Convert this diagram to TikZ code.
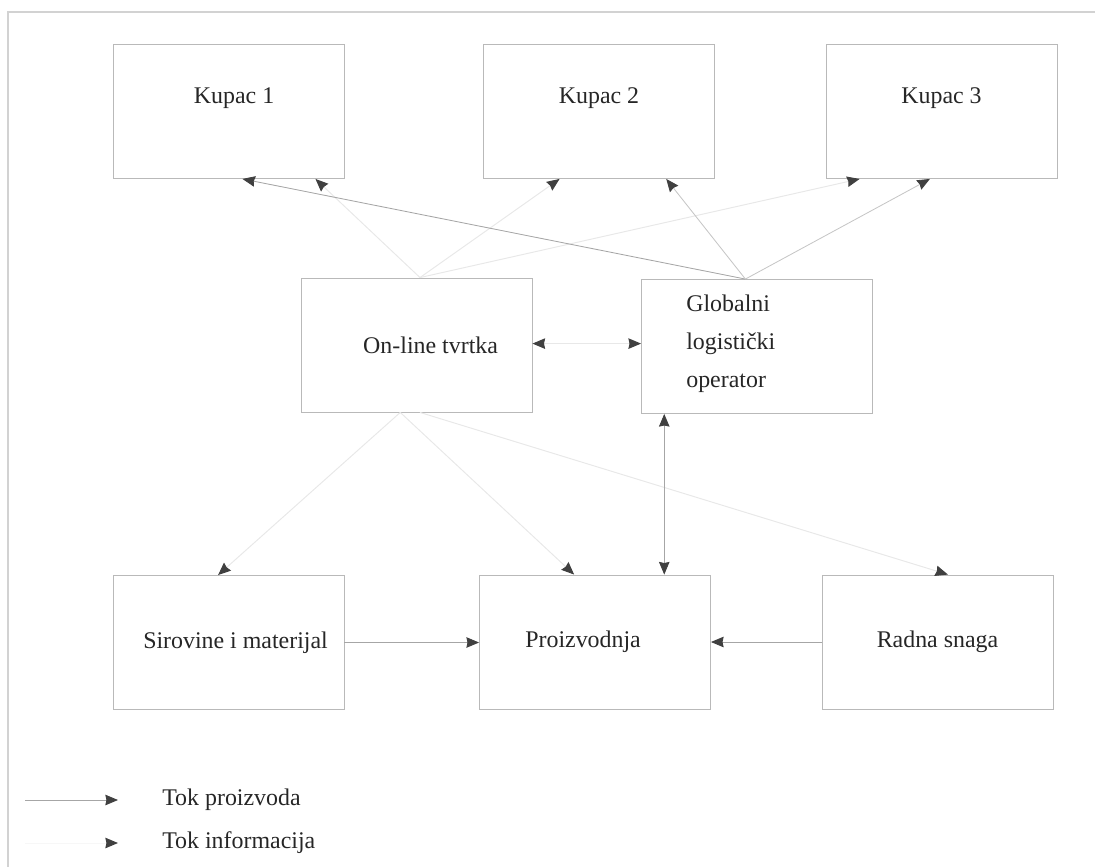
\documentclass[tikz,border=0pt]{standalone}
\usepackage{fontspec}
\setmainfont{Liberation Serif}
\usetikzlibrary{arrows.meta,calc}
\begin{document}
\begin{tikzpicture}[x=0.025cm,y=-0.025cm,
  every node/.style={font=\fontsize{17}{27}\selectfont, text=black!85},
  box/.style={draw=gray!55, line width=0.6pt, inner sep=0pt,
    minimum width=5.775cm, minimum height=3.35cm},
  txt/.style={inner sep=0pt},
  prod/.style={draw=gray!70, line width=0.6pt,
    -{Stealth[length=9pt,width=7.5pt,inset=0.8pt,color=black!75]}},
  prodmid/.style={prod, draw=gray!45},
  info/.style={draw=gray!18, line width=0.7pt,
    -{Stealth[length=9pt,width=7.5pt,inset=0.8pt,color=black!75]}},
  frame/.style={draw=gray!35, line width=0.8pt}]
\useasboundingbox (0,0) rectangle (1095,867);
% frame
\coordinate (ftl) at (8,12);
\coordinate (ftr) at (1095,12);
\coordinate (fbl) at (8,867);
\draw[frame] (ftr) -- (ftl) -- (fbl);
% boxes
\node[box, label={[txt, xshift=4pt, yshift=9.6pt]center:Kupac 1}] (K1) at (228.5,111.5) {};
\node[box, label={[txt, yshift=9.6pt]center:Kupac 2}] (K2) at (599,111.5) {};
\node[box, label={[txt, yshift=9.6pt]center:Kupac 3}] (K3) at (941.5,111.5) {};
\node[box, label={[txt, xshift=10pt]center:On-line tvrtka}] (OL) at (416.5,345) {};
\node[box, label={[txt, anchor=west, align=left, xshift=32pt, yshift=2pt]west:Globalni\\logistički\\operator}] (GL) at (757,346.5) {};
\node[box, label={[txt, xshift=5pt]center:Sirovine i materijal}] (SM) at (228.5,642.5) {};
\node[box, label={[txt, xshift=-8.5pt]center:Proizvodnja}] (PR) at (595,642) {};
\node[box, label={[txt]center:Radna snaga}] (RS) at (937.5,642) {};
% information flows (light)
\draw[info] ($(OL.north west)!0.515!(OL.north east)$) -- ($(K1.south west)!0.875!(K1.south east)$);
\draw[info] ($(OL.north west)!0.515!(OL.north east)$) -- ($(K2.south west)!0.33!(K2.south east)$);
\draw[info] ($(OL.north west)!0.515!(OL.north east)$) -- ($(K3.south west)!0.147!(K3.south east)$);
\draw[info] ($(OL.south west)!0.43!(OL.south east)$) -- ($(SM.north west)!0.455!(SM.north east)$);
\draw[info] ($(OL.south west)!0.43!(OL.south east)$) -- ($(PR.north west)!0.41!(PR.north east)$);
\draw[info] ($(OL.south west)!0.515!(OL.south east)$) -- ($(RS.north west)!0.545!(RS.north east)$);
\draw[info, {Stealth[length=9pt,width=7.5pt,inset=0.8pt,color=black!75]}-{Stealth[length=9pt,width=7.5pt,inset=0.8pt,color=black!75]}]
  ([yshift=1pt]OL.east) -- ([yshift=1pt]OL.east -| GL.west);
% product flows
\draw[prod] ($(GL.north west)!0.45!(GL.north east)$) -- ($(K1.south west)!0.56!(K1.south east)$);
\draw[prodmid] ($(GL.north west)!0.45!(GL.north east)$) -- ($(K2.south west)!0.79!(K2.south east)$);
\draw[prodmid] ($(GL.north west)!0.45!(GL.north east)$) -- ($(K3.south west)!0.45!(K3.south east)$);
\coordinate (glb) at ($(GL.south west)!0.10!(GL.south east)$);
\draw[prod, {Stealth[length=9pt,width=7.5pt,inset=0.8pt,color=black!75]}-{Stealth[length=9pt,width=7.5pt,inset=0.8pt,color=black!75]}]
  (glb) -- (glb |- PR.north);
\draw[prod] (SM.east) -- (SM.east -| PR.west);
\draw[prod] (RS.west) -- (RS.west -| PR.east);
% legend
\coordinate (l1a) at (25,800);
\coordinate (l1b) at (118,800);
\coordinate (l2a) at (25,843);
\coordinate (l2b) at (118,843);
\draw[prod] (l1a) -- (l1b);
\draw[info, draw=gray!6] (l2a) -- (l2b);
\node[txt, anchor=west] (lt1) at (162,800) {Tok proizvoda};
\node[txt, anchor=west] (lt2) at (162,843) {Tok informacija};
\end{tikzpicture}
\end{document}
